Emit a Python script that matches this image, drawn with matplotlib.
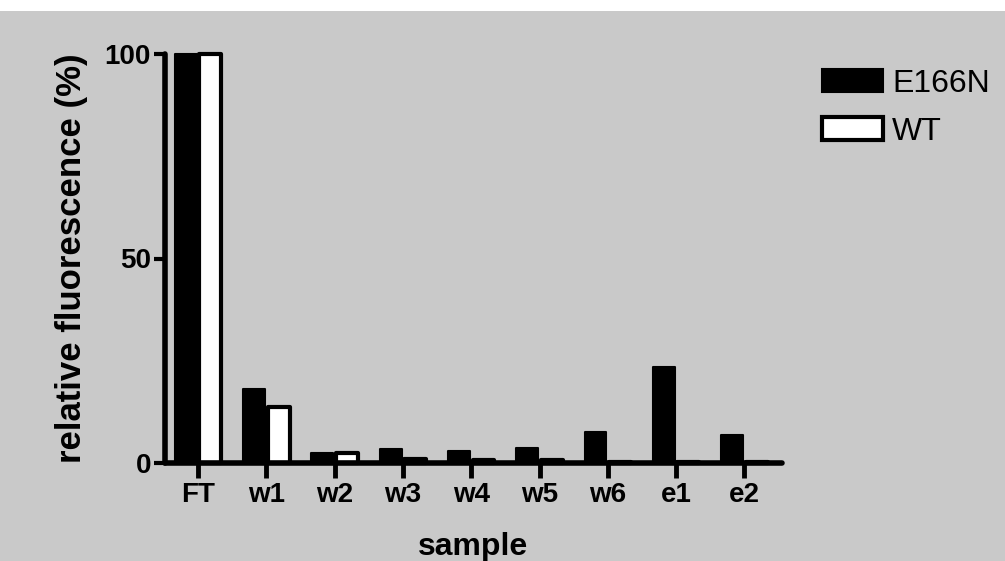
"""
plot.py  —  relative fluorescence per sample, E166N vs WT (flow-through, washes, elutions).
"""
import numpy as np
import matplotlib
matplotlib.use("Agg")
import matplotlib.pyplot as plt
from matplotlib.patches import Rectangle

samples = ["FT", "w1", "w2", "w3", "w4", "w5", "w6", "e1", "e2"]
e166n = [100, 18.1, 2.5, 3.4, 3.0, 3.7, 7.6, 23.5, 6.8]
wt = [100, 13.7, 2.4, 1.0, 0.8, 0.7, 0.3, 0.3, 0.3]
yticks = [0, 50, 100]

plt.rcParams["font.family"] = ["Liberation Sans", "DejaVu Sans"]
BG = "#c9c9c9"

fig = plt.figure(figsize=(10.05, 5.61), dpi=100, facecolor=BG)
# thin white strip along the top edge of the scan
fig.patches.append(Rectangle((0, 1 - 11 / 561), 1, 11 / 561, transform=fig.transFigure,
                             facecolor="white", edgecolor="none", zorder=0))
ax = fig.add_axes([165 / 1005, 1 - 463 / 561, 617 / 1005, 409 / 561])
ax.set_facecolor("none")

x = np.arange(len(samples))
w = 0.32
b1 = ax.bar(x - 0.18, e166n, w, color="black", edgecolor="black", lw=1.5,
            joinstyle="round", label="E166N", clip_on=False)
b2 = ax.bar(x + 0.18, wt, w, color="white", edgecolor="black", lw=3,
            joinstyle="round", label="WT", clip_on=False)

ax.set_xlim(-0.483, 8.55)
ax.set_ylim(0, 100)
ax.set_xticks(x, samples)
ax.set_yticks(yticks)
for s in ["top", "right"]:
    ax.spines[s].set_visible(False)
for s in ["left", "bottom"]:
    ax.spines[s].set_linewidth(4)
    ax.spines[s].set_capstyle("round")
ax.tick_params(axis="x", length=11, width=3.5, pad=3, labelsize=20)
ax.tick_params(axis="y", length=8, width=3, pad=2, labelsize=20)
for lab in ax.get_xticklabels() + ax.get_yticklabels():
    lab.set_fontweight("bold")

ax.set_xlabel("sample", fontsize=23, fontweight="bold", labelpad=17)
ax.set_ylabel("relative fluorescence (%)", fontsize=25, fontweight="bold", labelpad=12)

ax.legend(handles=[b1, b2], loc="upper left", bbox_to_anchor=(822 / 1005, 1 - 69 / 561),
          bbox_transform=fig.transFigure, frameon=False, fontsize=23,
          handlelength=1.9, handleheight=0.72, handletextpad=0.3,
          labelspacing=0.55, borderpad=0, borderaxespad=0)

fig.savefig("out.png", dpi=100, facecolor=BG)
